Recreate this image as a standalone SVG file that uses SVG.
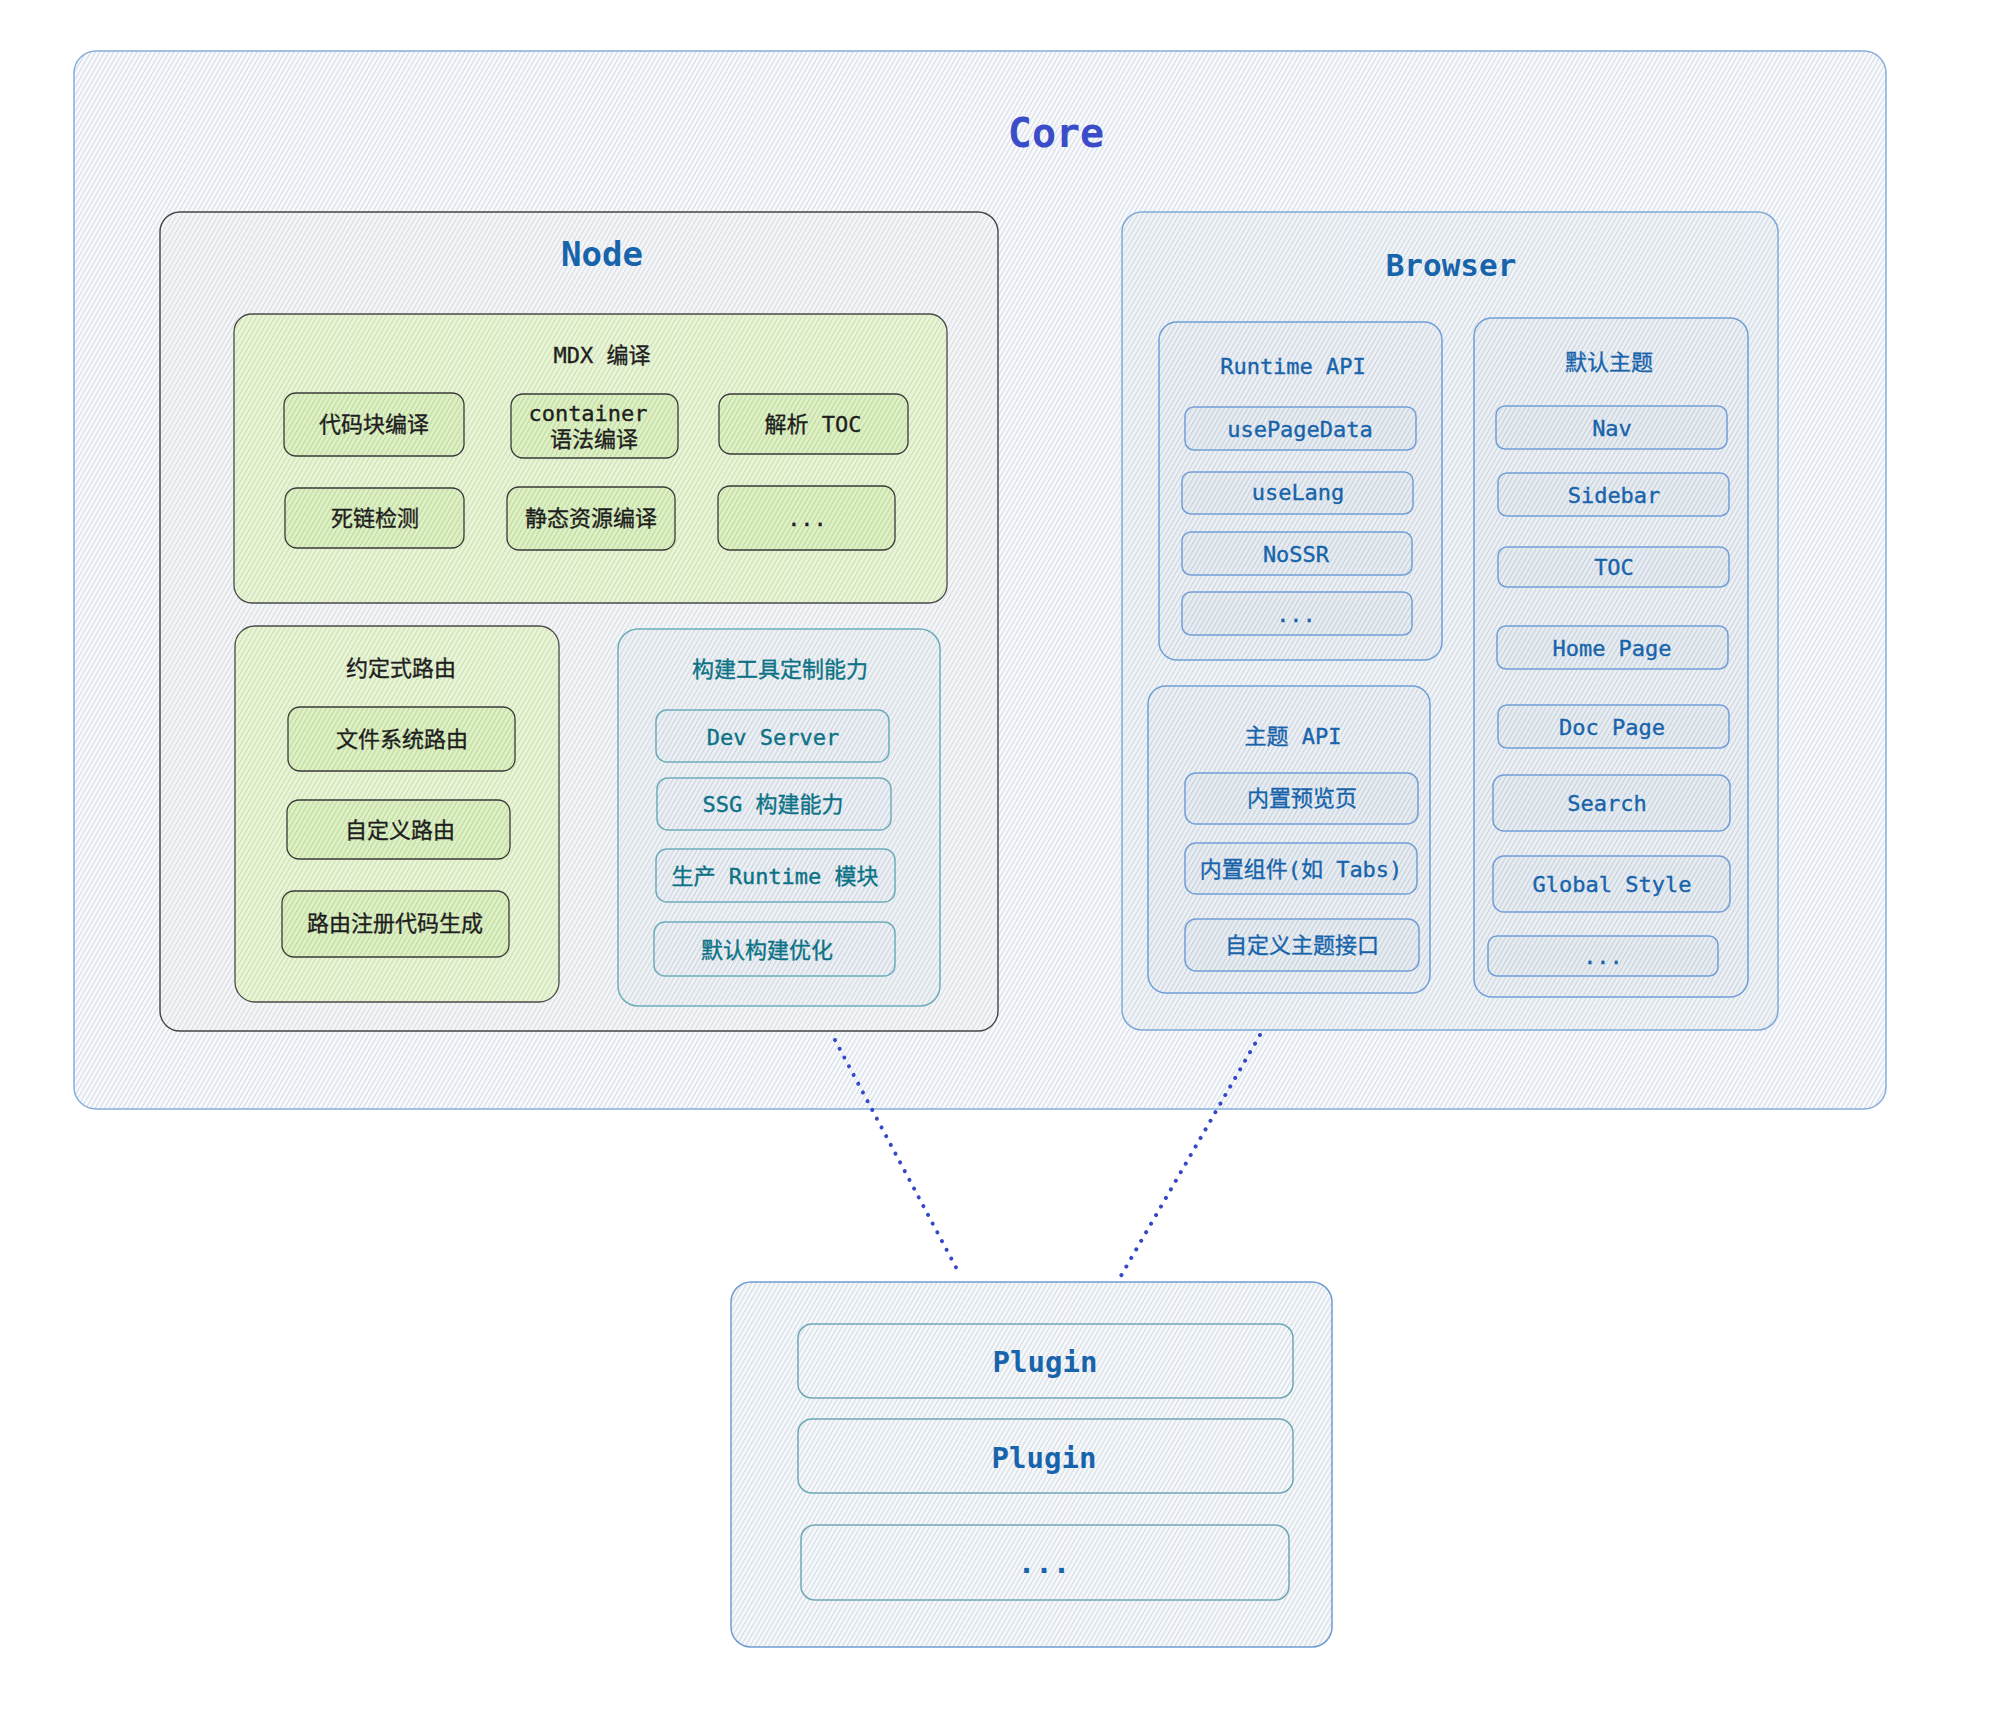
<svg xmlns="http://www.w3.org/2000/svg" width="1994" height="1712" viewBox="0 0 1994 1712">
  <defs>
    <!-- hand-drawn style hachure fills: tinted background + fine diagonal strokes -->
    <pattern id="h-core" width="4" height="4" patternUnits="userSpaceOnUse" patternTransform="rotate(30)">
      <rect width="4" height="4" fill="#f9fafc"/>
      <line x1="0.6" y1="0" x2="0.6" y2="4" stroke="#d4dce6" stroke-width="1.1"/>
    </pattern>
    <pattern id="h-gray" width="4" height="4" patternUnits="userSpaceOnUse" patternTransform="rotate(30)">
      <rect width="4" height="4" fill="#f5f6f8"/>
      <line x1="0.6" y1="0" x2="0.6" y2="4" stroke="#d7dce2" stroke-width="1.1"/>
    </pattern>
    <pattern id="h-blue" width="4" height="4" patternUnits="userSpaceOnUse" patternTransform="rotate(30)">
      <rect width="4" height="4" fill="#f1f4f7"/>
      <line x1="0.6" y1="0" x2="0.6" y2="4" stroke="#cfd8e2" stroke-width="1.1"/>
    </pattern>
    <pattern id="h-blue2" width="4" height="4" patternUnits="userSpaceOnUse" patternTransform="rotate(30)">
      <rect width="4" height="4" fill="#edf0f4"/>
      <line x1="0.6" y1="0" x2="0.6" y2="4" stroke="#cad3de" stroke-width="1.1"/>
    </pattern>
    <pattern id="h-blue3" width="4" height="4" patternUnits="userSpaceOnUse" patternTransform="rotate(30)">
      <rect width="4" height="4" fill="#e8edf2"/>
      <line x1="0.6" y1="0" x2="0.6" y2="4" stroke="#c5d0dc" stroke-width="1.1"/>
    </pattern>
    <pattern id="h-teal" width="4" height="4" patternUnits="userSpaceOnUse" patternTransform="rotate(30)">
      <rect width="4" height="4" fill="#eff2f5"/>
      <line x1="0.6" y1="0" x2="0.6" y2="4" stroke="#d0d8df" stroke-width="1.1"/>
    </pattern>
    <pattern id="h-green" width="4" height="4" patternUnits="userSpaceOnUse" patternTransform="rotate(30)">
      <rect width="4" height="4" fill="#ebf4de"/>
      <line x1="0.6" y1="0" x2="0.6" y2="4" stroke="#cae4a6" stroke-width="1.2"/>
    </pattern>
    <pattern id="h-green2" width="4" height="4" patternUnits="userSpaceOnUse" patternTransform="rotate(30)">
      <rect width="4" height="4" fill="#e0f0cb"/>
      <line x1="0.6" y1="0" x2="0.6" y2="4" stroke="#bddc96" stroke-width="1.2"/>
    </pattern>
    <pattern id="h-plugin" width="4" height="4" patternUnits="userSpaceOnUse" patternTransform="rotate(30)">
      <rect width="4" height="4" fill="#f6f8fa"/>
      <line x1="0.6" y1="0" x2="0.6" y2="4" stroke="#d3dbe3" stroke-width="1.1"/>
    </pattern>
  </defs>
  <style>
    text { font-family: "DejaVu Sans Mono", "Noto Sans CJK SC", monospace; text-anchor: middle; }
    .t-core { font-size: 40px; font-weight: bold; fill: #3b4cc8; }
    .t-big { font-weight: bold; fill: #1864ab; }
    .t-item { font-size: 22px; stroke-width: 0.35px; }
    .dark { fill: #1e1e1e; stroke: #1e1e1e; }
    .blue { fill: #1864ab; stroke: #1864ab; }
    .teal { fill: #0c7286; stroke: #0c7286; }
    .b-core { fill: url(#h-core); stroke: #86afdb; stroke-width: 1.5; }
    .b-node { fill: url(#h-gray); stroke: #444; stroke-width: 1.4; }
    .b-green { fill: url(#h-green); stroke: #4a4a4a; stroke-width: 1.3; }
    .b-green2 { fill: url(#h-green2); stroke: #3a3a3a; stroke-width: 1.3; }
    .b-teal { fill: url(#h-teal); stroke: #6eadbb; stroke-width: 1.5; }
    .b-teal2 { fill: url(#h-blue2); stroke: #6eadbb; stroke-width: 1.5; }
    .b-browser { fill: url(#h-blue); stroke: #80a9d8; stroke-width: 1.5; }
    .b-sub { fill: url(#h-blue2); stroke: #6f9fd6; stroke-width: 1.5; }
    .b-item { fill: url(#h-blue3); stroke: #729fd6; stroke-width: 1.5; }
    .b-plugin { fill: url(#h-plugin); stroke: #6f9dd2; stroke-width: 1.5; }
    .b-plug { fill: url(#h-plugin); stroke: #6ea8b4; stroke-width: 1.5; }
    .link { fill: none; stroke: #3548c8; stroke-width: 4; stroke-linecap: round; stroke-dasharray: 0.1 9.8; }
  </style>

  <rect width="1994" height="1712" fill="#ffffff"/>

  <!-- Core container -->
  <g id="core">
    <rect class="b-core" x="74" y="51" width="1812" height="1058" rx="22"/>
    <text class="t-core" x="1056" y="147">Core</text>
  </g>

  <!-- Node side -->
  <g id="node">
    <rect class="b-node" x="160" y="212" width="838" height="819" rx="20"/>
    <text class="t-big" style="font-size:34px" x="602" y="266">Node</text>
  </g>

  <g id="mdx">
    <rect class="b-green" x="234" y="314" width="713" height="289" rx="18"/>
    <text class="t-item dark" x="602" y="363">MDX 编译</text>
  </g>
  <g id="mdx-codeblock">
    <rect class="b-green2" x="284" y="393" width="180" height="63" rx="12"/>
    <text class="t-item dark" x="374" y="432">代码块编译</text>
  </g>
  <g id="mdx-container">
    <rect class="b-green2" x="511" y="394" width="167" height="64" rx="12"/>
    <text class="t-item dark" x="588" y="421">container</text>
    <text class="t-item dark" x="594" y="447">语法编译</text>
  </g>
  <g id="mdx-toc">
    <rect class="b-green2" x="719" y="394" width="189" height="60" rx="12"/>
    <text class="t-item dark" x="813" y="432">解析 TOC</text>
  </g>
  <g id="mdx-deadlink">
    <rect class="b-green2" x="285" y="488" width="179" height="60" rx="12"/>
    <text class="t-item dark" x="375" y="526">死链检测</text>
  </g>
  <g id="mdx-assets">
    <rect class="b-green2" x="507" y="487" width="168" height="63" rx="12"/>
    <text class="t-item dark" x="591" y="526">静态资源编译</text>
  </g>
  <g id="mdx-more">
    <rect class="b-green2" x="718" y="486" width="177" height="64" rx="12"/>
    <text class="t-item dark" x="807" y="526">...</text>
  </g>

  <g id="routing">
    <rect class="b-green" x="235" y="626" width="324" height="376" rx="20"/>
    <text class="t-item dark" x="401" y="676">约定式路由</text>
  </g>
  <g id="routing-fs">
    <rect class="b-green2" x="288" y="707" width="227" height="64" rx="12"/>
    <text class="t-item dark" x="402" y="747">文件系统路由</text>
  </g>
  <g id="routing-custom">
    <rect class="b-green2" x="287" y="800" width="223" height="59" rx="12"/>
    <text class="t-item dark" x="400" y="838">自定义路由</text>
  </g>
  <g id="routing-codegen">
    <rect class="b-green2" x="282" y="891" width="227" height="66" rx="12"/>
    <text class="t-item dark" x="395" y="931">路由注册代码生成</text>
  </g>

  <g id="build">
    <rect class="b-teal" x="618" y="629" width="322" height="377" rx="20"/>
    <text class="t-item teal" x="780" y="677">构建工具定制能力</text>
  </g>
  <g id="build-devserver">
    <rect class="b-teal2" x="656" y="710" width="233" height="52" rx="11"/>
    <text class="t-item teal" x="773" y="745">Dev Server</text>
  </g>
  <g id="build-ssg">
    <rect class="b-teal2" x="657" y="778" width="234" height="52" rx="11"/>
    <text class="t-item teal" x="773" y="812">SSG 构建能力</text>
  </g>
  <g id="build-runtime">
    <rect class="b-teal2" x="656" y="849" width="239" height="53" rx="11"/>
    <text class="t-item teal" x="775" y="884">生产 Runtime 模块</text>
  </g>
  <g id="build-optimize">
    <rect class="b-teal2" x="654" y="922" width="241" height="54" rx="11"/>
    <text class="t-item teal" x="767" y="958">默认构建优化</text>
  </g>

  <!-- Browser side -->
  <g id="browser">
    <rect class="b-browser" x="1122" y="212" width="656" height="818" rx="20"/>
    <text class="t-big" style="font-size:31px" x="1451" y="276">Browser</text>
  </g>

  <g id="runtime-api">
    <rect class="b-sub" x="1159" y="322" width="283" height="338" rx="18"/>
    <text class="t-item blue" x="1293" y="374">Runtime API</text>
  </g>
  <g id="api-usepagedata">
    <rect class="b-item" x="1185" y="407" width="231" height="43" rx="9"/>
    <text class="t-item blue" x="1300" y="437">usePageData</text>
  </g>
  <g id="api-uselang">
    <rect class="b-item" x="1182" y="472" width="231" height="42" rx="9"/>
    <text class="t-item blue" x="1298" y="500">useLang</text>
  </g>
  <g id="api-nossr">
    <rect class="b-item" x="1182" y="532" width="230" height="43" rx="9"/>
    <text class="t-item blue" x="1296" y="562">NoSSR</text>
  </g>
  <g id="api-more">
    <rect class="b-item" x="1182" y="592" width="230" height="43" rx="9"/>
    <text class="t-item blue" x="1296" y="622">...</text>
  </g>

  <g id="theme-api">
    <rect class="b-sub" x="1148" y="686" width="282" height="307" rx="18"/>
    <text class="t-item blue" x="1293" y="744">主题 API</text>
  </g>
  <g id="theme-preview">
    <rect class="b-item" x="1185" y="773" width="233" height="51" rx="11"/>
    <text class="t-item blue" x="1302" y="806">内置预览页</text>
  </g>
  <g id="theme-components">
    <rect class="b-item" x="1185" y="843" width="232" height="51" rx="11"/>
    <text class="t-item blue" x="1301" y="877">内置组件(如 Tabs)</text>
  </g>
  <g id="theme-custom">
    <rect class="b-item" x="1185" y="919" width="234" height="52" rx="11"/>
    <text class="t-item blue" x="1302" y="953">自定义主题接口</text>
  </g>

  <g id="default-theme">
    <rect class="b-sub" x="1474" y="318" width="274" height="679" rx="18"/>
    <text class="t-item blue" x="1609" y="370">默认主题</text>
  </g>
  <g id="theme-nav">
    <rect class="b-item" x="1496" y="406" width="231" height="43" rx="9"/>
    <text class="t-item blue" x="1612" y="436">Nav</text>
  </g>
  <g id="theme-sidebar">
    <rect class="b-item" x="1498" y="473" width="231" height="43" rx="9"/>
    <text class="t-item blue" x="1614" y="503">Sidebar</text>
  </g>
  <g id="theme-toc">
    <rect class="b-item" x="1498" y="547" width="231" height="40" rx="9"/>
    <text class="t-item blue" x="1614" y="575">TOC</text>
  </g>
  <g id="theme-home">
    <rect class="b-item" x="1497" y="626" width="231" height="43" rx="9"/>
    <text class="t-item blue" x="1612" y="656">Home Page</text>
  </g>
  <g id="theme-doc">
    <rect class="b-item" x="1498" y="705" width="231" height="43" rx="9"/>
    <text class="t-item blue" x="1612" y="735">Doc Page</text>
  </g>
  <g id="theme-search">
    <rect class="b-item" x="1493" y="775" width="237" height="56" rx="11"/>
    <text class="t-item blue" x="1607" y="811">Search</text>
  </g>
  <g id="theme-style">
    <rect class="b-item" x="1493" y="856" width="237" height="56" rx="11"/>
    <text class="t-item blue" x="1612" y="892">Global Style</text>
  </g>
  <g id="theme-more">
    <rect class="b-item" x="1488" y="936" width="230" height="40" rx="9"/>
    <text class="t-item blue" x="1603" y="964">...</text>
  </g>

  <!-- Plugin layer -->
  <g id="plugins">
    <rect class="b-plugin" x="731" y="1282" width="601" height="365" rx="20"/>
  </g>
  <g id="plugin-1">
    <rect class="b-plug" x="798" y="1324" width="495" height="74" rx="14"/>
    <text class="t-big" style="font-size:29px" x="1045" y="1372">Plugin</text>
  </g>
  <g id="plugin-2">
    <rect class="b-plug" x="798" y="1419" width="495" height="74" rx="14"/>
    <text class="t-big" style="font-size:29px" x="1044" y="1468">Plugin</text>
  </g>
  <g id="plugin-more">
    <rect class="b-plug" x="801" y="1525" width="488" height="75" rx="14"/>
    <text class="t-big" style="font-size:29px" x="1044" y="1573">...</text>
  </g>

  <!-- dotted links between core and plugins -->
  <g id="connectors">
    <line class="link" x1="835" y1="1040" x2="960" y2="1275"/>
    <line class="link" x1="1260" y1="1035" x2="1118" y2="1281"/>
  </g>
</svg>
